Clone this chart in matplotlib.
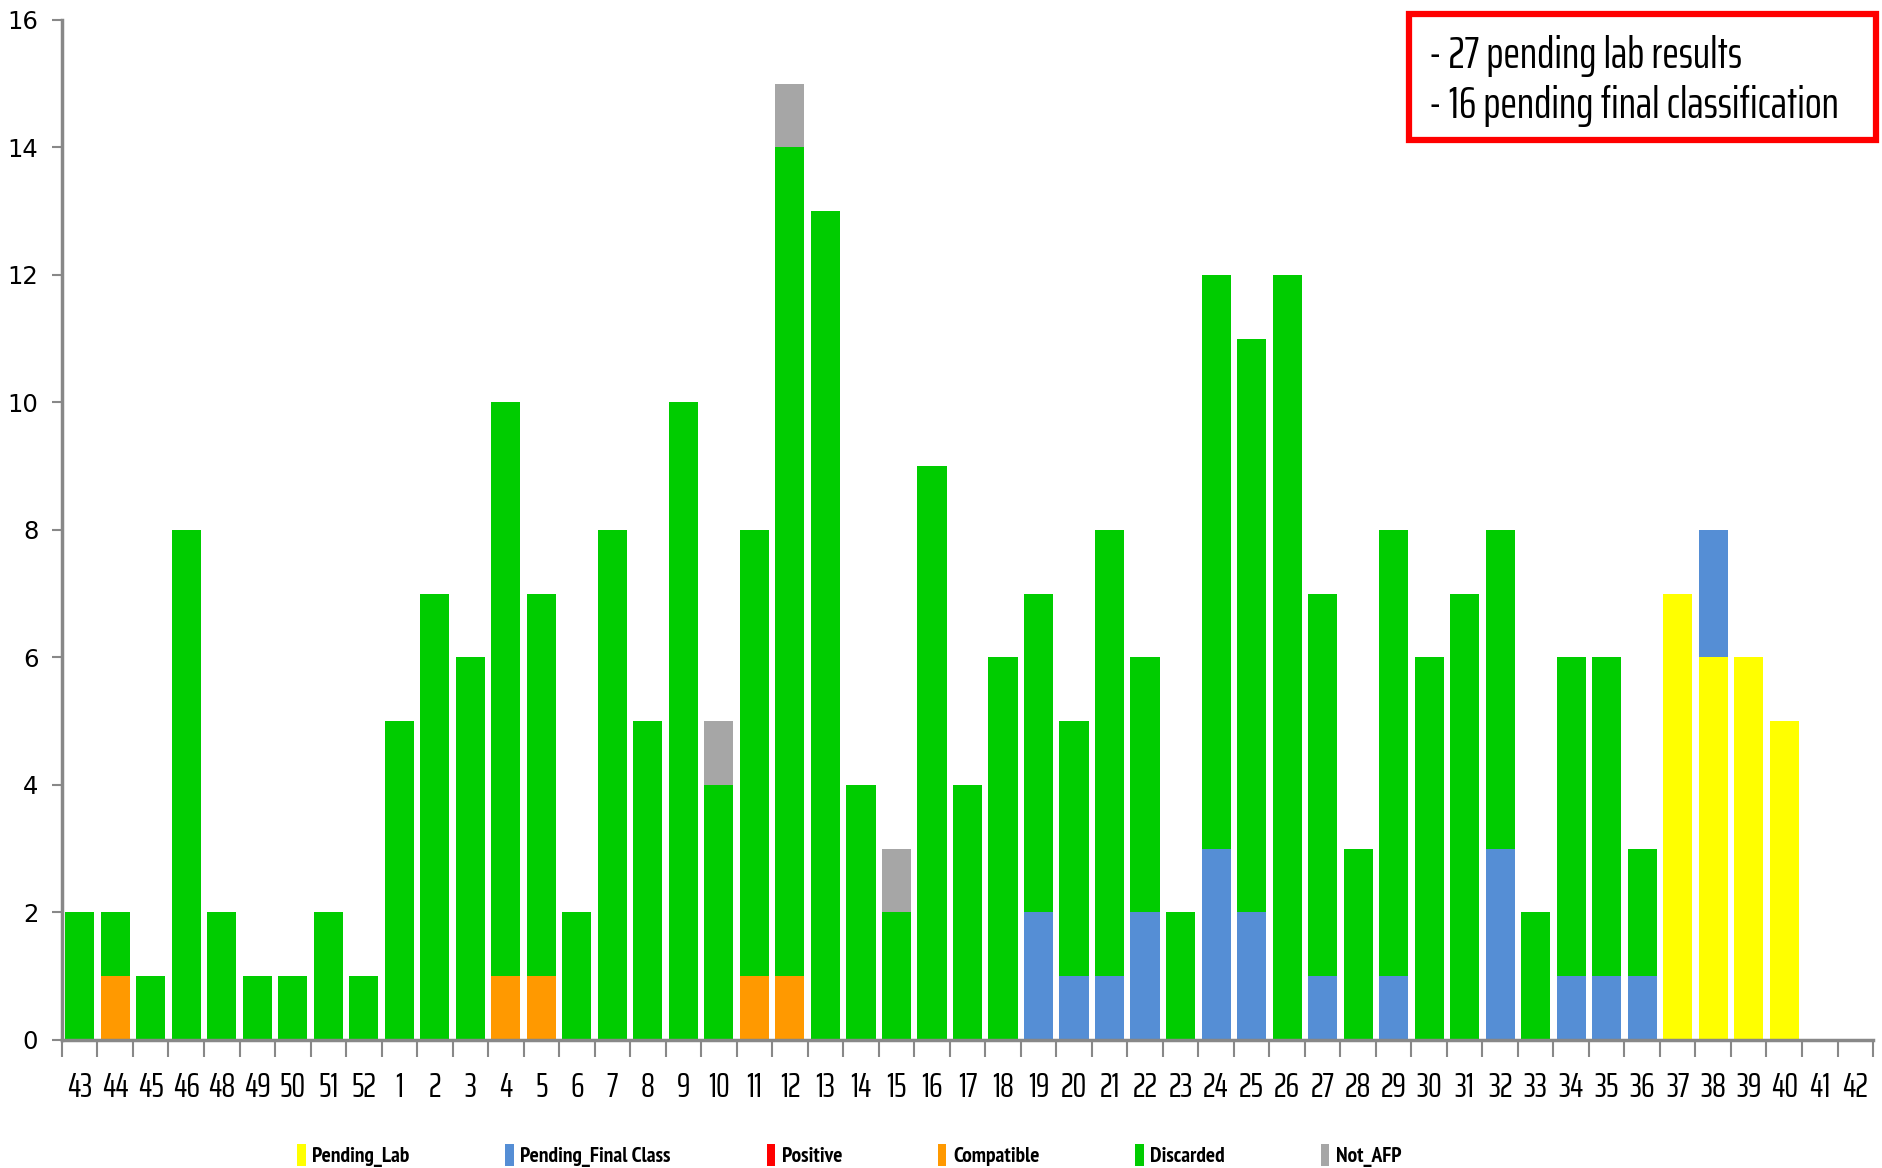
import matplotlib
matplotlib.use("Agg")
import matplotlib.pyplot as plt
import numpy as np
from matplotlib.patches import Rectangle, Patch

weeks = ["43", "44", "45", "46", "48", "49", "50", "51", "52"] + [str(i) for i in range(1, 43)]

pending_lab = [0]*9 + [0]*36 + [7, 6, 6, 5, 0, 0]
pending_final = [0]*9 + [0]*18 + [2, 1, 1, 2, 0, 3, 2, 0, 1, 0, 1, 0, 0, 3, 0, 1, 1, 1] + [0, 2, 0, 0, 0, 0]
positive = [0]*51
compatible = [0, 1, 0, 0, 0, 0, 0, 0, 0,
              0, 0, 0, 1, 1, 0, 0, 0, 0, 0, 1, 1] + [0]*30
discarded = [2, 1, 1, 8, 2, 1, 1, 2, 1,
             5, 7, 6, 9, 6, 2, 8, 5, 10, 4, 7, 13, 13, 4, 2, 9, 4, 6,
             5, 4, 7, 4, 2, 9, 9, 12, 6, 3, 7, 6, 7, 5, 2, 5, 5, 2,
             0, 0, 0, 0, 0, 0]
not_afp = [0]*9 + [0]*9 + [1, 0, 1, 0, 0, 1] + [0]*27

series_names = ["Pending_Lab", "Pending_Final Class", "Positive", "Compatible", "Discarded", "Not_AFP"]
series_values = [pending_lab, pending_final, positive, compatible, discarded, not_afp]
colors = ["#FFFF00", "#558ED5", "#FF0000", "#FF9900", "#00CC00", "#A6A6A6"]

note_lines = ["- 27 pending lab results", "- 16 pending final classification"]

narrow = ["PT Sans Narrow", "Archivo Narrow", "DejaVu Sans"]
agency = ["Saira ExtraCondensed", "Saira Condensed", "DejaVu Sans"]

fig = plt.figure(figsize=(18.83, 11.68), dpi=100)
ax = fig.add_axes([0.0329, 0.1096, 0.9618, 0.8733])

x = np.arange(len(weeks))
bottom = np.zeros(len(weeks))
for name, vals, c in zip(series_names, series_values, colors):
    v = np.array(vals, dtype=float)
    ax.bar(x, v, width=0.82, bottom=bottom, color=c, linewidth=0, label=name)
    bottom += v

ax.set_xlim(-0.5, len(weeks) - 0.5)
ax.set_ylim(0, 16)
ax.set_yticks(np.arange(0, 17, 2))
ax.tick_params(axis="y", labelsize=17.5, length=7, width=1.5, color="#888888", pad=10)

ax.set_xticks(x)
ax.set_xticklabels(weeks, fontsize=25, family=agency)
ax.tick_params(axis="x", which="major", length=0, pad=22)
ax.set_xticks(np.arange(-0.5, len(weeks)), minor=True)
ax.tick_params(axis="x", which="minor", length=12, width=1.5, color="#888888")

for s in ["top", "right"]:
    ax.spines[s].set_visible(False)
for s in ["left", "bottom"]:
    ax.spines[s].set_color("#888888")
    ax.spines[s].set_linewidth(2.5)

handles = [Patch(facecolor=c, edgecolor="none") for c in colors]
leg = fig.legend(handles, series_names, loc="center", bbox_to_anchor=(0.451, 0.011),
                 ncol=6, frameon=False, handlelength=0.4, handleheight=1.2,
                 handletextpad=0.3, columnspacing=4.45,
                 prop={"family": narrow, "weight": "bold", "size": 15.5})

# annotation box
fig.patches.append(Rectangle((1409/1883, 1 - 140/1168), (1876-1409)/1883, (140-14)/1168,
                             transform=fig.transFigure, fill=False, edgecolor="#FF0000",
                             linewidth=4.5))
fig.text(1429/1883, 1 - 56/1168, note_lines[0], fontsize=32, family=agency, va="center", ha="left")
fig.text(1429/1883, 1 - 106/1168, note_lines[1], fontsize=32, family=agency, va="center", ha="left")

fig.savefig("out.png", dpi=100)
